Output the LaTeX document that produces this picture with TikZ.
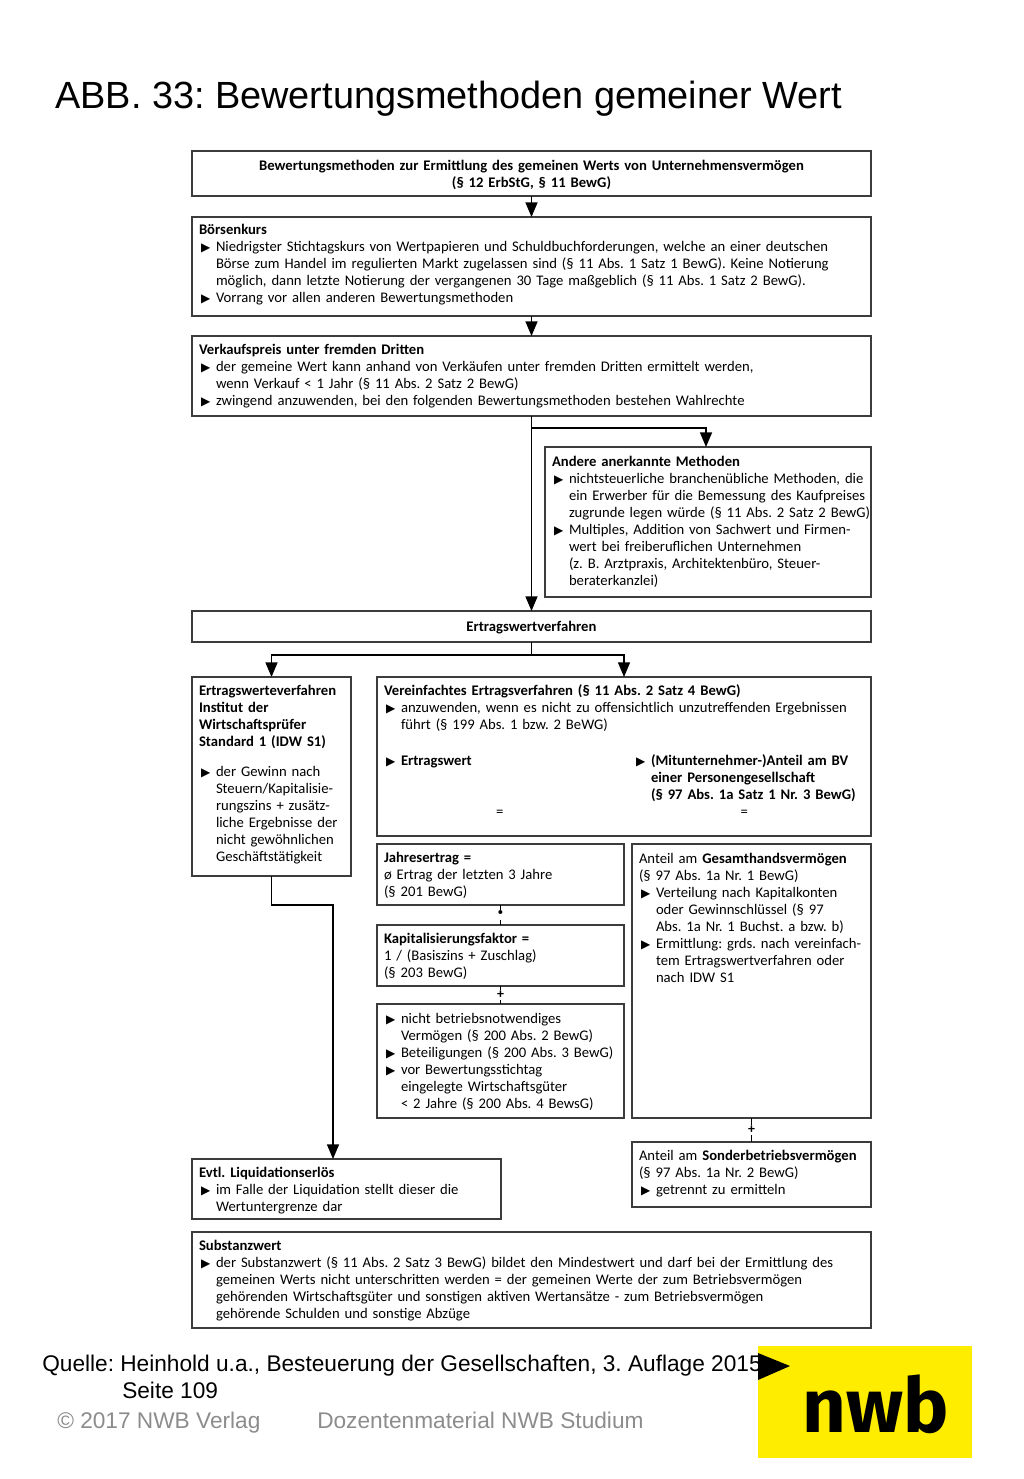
\documentclass[tikz,border=0pt]{standalone}
\usepackage{fontspec}
\usetikzlibrary{arrows.meta}
\setmainfont{Carlito}
\newfontfamily\slidefont{Liberation Sans}
\newfontfamily\logofont{Fira Sans}
\newfontfamily\symfont{DejaVu Sans}
\definecolor{nwbyellow}{RGB}{255,237,0}
\definecolor{frameline}{RGB}{60,60,60}
\newcommand{\bul}{\makebox[12.75pt][l]{\hspace{1.5pt}{\symfont\fontsize{9}{12.75}\selectfont ▶}}}
\newcommand{\itm}{\par\hangindent=12.75pt\hangafter=1\rightskip=-8pt plus 1fil\noindent\bul}
\newcommand{\tailgap}[1]{\par\vspace{#1}\nointerlineskip\hbox{}}
\frenchspacing

\begin{document}
\begin{tikzpicture}[x=0.75pt,y=-0.75pt,
  panel/.style n args={2}{draw=frameline, line width=1.3pt, anchor=north west, rectangle,
    inner xsep=5.25pt, inner ysep=0pt, outer sep=0pt, align=left,
    minimum width=#1*0.75pt, minimum height=#2*0.75pt, text width=#1*0.75pt-10.5pt,
    font=\frenchspacing\fontsize{11}{12.75}\selectfont},
  arrow/.style={draw=black, line width=1.1pt, -{Triangle[length=11pt,width=9pt]}},
  link/.style={draw=black, line width=1.1pt},
  opsign/.style={fill=white, inner sep=0.6pt, font=\fontsize{10.4}{10.4}\selectfont\bfseries},
  slide/.style={anchor=base west, inner sep=0pt, font=\slidefont\frenchspacing\fontsize{17}{17}\selectfont}]

\useasboundingbox (0,0) rectangle (1024,1479);

% Title
\node[anchor=base west, inner sep=0pt, font=\slidefont\frenchspacing\fontsize{28.4}{29}\selectfont] (title) at (55,108)
  {ABB. 33: Bewertungsmethoden gemeiner Wert};

% Upper boxes
\node[panel={679}{45}, align=center] (methoden) at (192,151)
  {\textbf{Bewertungsmethoden zur Ermittlung des gemeinen Werts von Unternehmensvermögen}\\
   \textbf{(§ 12 ErbStG, § 11 BewG)}\tailgap{-1.5pt}};
\node[panel={679}{99}] (boerse) at (192,217)
  {\textbf{Börsenkurs}
   \itm Niedrigster Stichtagskurs von Wertpapieren und Schuldbuchforderungen, welche an einer deutschen\newline
   Börse zum Handel im regulierten Markt zugelassen sind (§ 11 Abs. 1 Satz 1 BewG). Keine Notierung\newline
   möglich, dann letzte Notierung der vergangenen 30 Tage maßgeblich (§ 11 Abs. 1 Satz 2 BewG).
   \itm Vorrang vor allen anderen Bewertungsmethoden\tailgap{3pt}};
\node[panel={679}{80}] (verkauf) at (192,336)
  {\textbf{Verkaufspreis unter fremden Dritten}
   \itm der gemeine Wert kann anhand von Verkäufen unter fremden Dritten ermittelt werden,\newline
   wenn Verkauf < 1 Jahr (§ 11 Abs. 2 Satz 2 BewG)
   \itm zwingend anzuwenden, bei den folgenden Bewertungsmethoden bestehen Wahlrechte\tailgap{0pt}};
\node[panel={326}{150}] (andere) at (545,447)
  {\textbf{Andere anerkannte Methoden}
   \itm nichtsteuerliche branchenübliche Methoden, die\newline
   ein Erwerber für die Bemessung des Kaufpreises\newline
   zugrunde legen würde (§ 11 Abs. 2 Satz 2 BewG)
   \itm Multiples, Addition von Sachwert und Firmen-\newline
   wert bei freiberuflichen Unternehmen\newline
   (z. B. Arztpraxis, Architektenbüro, Steuer-\newline
   beraterkanzlei)\tailgap{0pt}};
\node[panel={679}{31}, align=center] (verfahren) at (192,611) {\textbf{Ertragswertverfahren}\tailgap{-3pt}};

% Middle boxes
\node[panel={159}{199}] (idw) at (192,677)
  {\textbf{Ertragswerteverfahren}\\
   \textbf{Institut der}\\
   \textbf{Wirtschaftsprüfer}\\
   \textbf{Standard 1 (IDW S1)}\par\vspace{10pt}
   \itm der Gewinn nach\newline
   Steuern/Kapitalisie-\newline
   rungszins + zusätz-\newline
   liche Ergebnisse der\newline
   nicht gewöhnlichen\newline
   Geschäftstätigkeit\tailgap{3pt}};
\node[panel={494}{159}] (vereinfacht) at (377,677)
  {\textbf{Vereinfachtes Ertragsverfahren (§ 11 Abs. 2 Satz 4 BewG)}
   \itm anzuwenden, wenn es nicht zu offensichtlich unzutreffenden Ergebnissen\newline
   führt (§ 199 Abs. 1 bzw. 2 BeWG)\par\vspace{14pt}
   \par\hangindent=200.25pt\hangafter=1\noindent\makebox[187.5pt][l]{\bul\textbf{Ertragswert}}\bul\textbf{(Mitunternehmer-)Anteil am BV}\newline
   \textbf{einer Personengesellschaft}\newline
   \textbf{(§ 97 Abs. 1a Satz 1 Nr. 3 BewG)}
   \par\noindent\hspace*{84pt}=\hspace{178pt}=\tailgap{9pt}};
\node[panel={247}{61}] (jahres) at (377,844)
  {\textbf{Jahresertrag =}\\
   ø Ertrag der letzten 3 Jahre\\
   (§ 201 BewG)\tailgap{-1.5pt}};
\node[panel={247}{61}] (kapital) at (377,925)
  {\textbf{Kapitalisierungsfaktor =}\\
   1 / (Basiszins + Zuschlag)\\
   (§ 203 BewG)\tailgap{-1.5pt}};
\node[panel={247}{114}] (vermoegen) at (377,1004)
  {\itm nicht betriebsnotwendiges\newline
   Vermögen (§ 200 Abs. 2 BewG)
   \itm Beteiligungen (§ 200 Abs. 3 BewG)
   \itm vor Bewertungsstichtag\newline
   eingelegte Wirtschaftsgüter\newline
   < 2 Jahre (§ 200 Abs. 4 BewsG)\tailgap{4pt}};
\node[panel={239}{274}] (gesamt) at (632,844)
  {Anteil am \textbf{Gesamthandsvermögen}\\
   (§ 97 Abs. 1a Nr. 1 BewG)
   \itm Verteilung nach Kapitalkonten\newline
   oder Gewinnschlüssel (§ 97\newline
   Abs. 1a Nr. 1 Buchst. a bzw. b)
   \itm Ermittlung: grds. nach vereinfach-\newline
   tem Ertragswertverfahren oder\newline
   nach IDW S1\tailgap{95pt}};
\node[panel={239}{65}] (sonder) at (632,1142)
  {Anteil am \textbf{Sonderbetriebsvermögen}\\
   (§ 97 Abs. 1a Nr. 2 BewG)
   \itm getrennt zu ermitteln\tailgap{2pt}};

% Lower boxes
\node[panel={309}{60}] (liquidation) at (192,1159)
  {\textbf{Evtl. Liquidationserlös}
   \itm im Falle der Liquidation stellt dieser die\newline
   Wertuntergrenze dar\tailgap{-3pt}};
\node[panel={679}{96}] (substanz) at (192,1232)
  {\textbf{Substanzwert}
   \itm der Substanzwert (§ 11 Abs. 2 Satz 3 BewG) bildet den Mindestwert und darf bei der Ermittlung des\newline
   gemeinen Werts nicht unterschritten werden = der gemeinen Werte der zum Betriebsvermögen\newline
   gehörenden Wirtschaftsgüter und sonstigen aktiven Wertansätze - zum Betriebsvermögen\newline
   gehörende Schulden und sonstige Abzüge\tailgap{-1.5pt}};

% Connectors
\coordinate (split) at (531.5,428);
\coordinate (andereIn) at (706,447);
\coordinate (fork) at (531.5,655);
\coordinate (bend) at (333,905);
\coordinate (liquidIn) at (333,1159);
\draw[arrow] (methoden) -- (boerse);
\draw[arrow] (boerse) -- (verkauf);
\draw[arrow] (verkauf) -- (verfahren);
\draw[arrow] (split) -| (andereIn);
\draw[link] (verfahren) -- (fork);
\draw[arrow] (fork) -| (idw);
\draw[arrow] (fork) -| (vereinfacht);
\draw[arrow] (idw) |- (bend) -- (liquidIn);
\draw[link] (jahres) -- node[opsign, font=\fontsize{16}{16}\selectfont\bfseries] (mal) {·} (kapital);
\draw[link] (kapital) -- node[opsign] (plusA) {+} (vermoegen);
\draw[link] (gesamt) -- node[opsign] (plusB) {+} (sonder);

% Source line
\node[slide] (quelle) at (42,1371) {Quelle: Heinhold u.a., Besteuerung der Gesellschaften, 3. Auflage 2015};
\node[slide] (seite) at (122,1398) {Seite 109};
\node[slide, text=black!45] (verlag) at (57,1428) {© 2017 NWB Verlag};
\node[slide, text=black!45] (material) at (317,1428) {Dozentenmaterial NWB Studium};

% Logo
\fill[nwbyellow] (758,1346) rectangle (972,1458);
\fill[black] (758,1353) -- (790,1366) -- (758,1380) -- cycle;
\node[inner sep=0pt, font=\logofont\bfseries\fontsize{57}{57}\selectfont] (logo) at (876,1404) {nwb};

\end{tikzpicture}
\end{document}
